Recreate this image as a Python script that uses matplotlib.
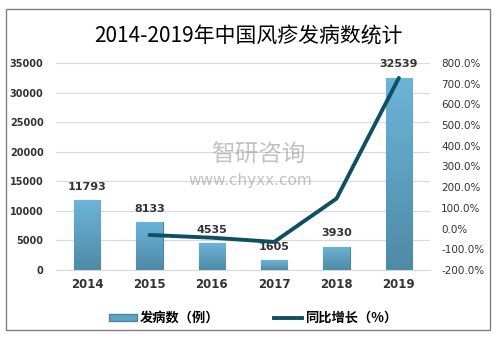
import matplotlib.pyplot as plt
import numpy as np
from matplotlib.patches import Rectangle
from matplotlib.lines import Line2D
from matplotlib.colors import LinearSegmentedColormap

plt.rcParams['font.family'] = ['Noto Sans CJK SC', 'DejaVu Sans']

years = ['2014', '2015', '2016', '2017', '2018', '2019']
cases = [11793, 8133, 4535, 1605, 3930, 32539]
growth_years = ['2015', '2016', '2017', '2018', '2019']
growth = [-31.0, -44.2, -64.6, 144.9, 728.0]

fig = plt.figure(figsize=(4.96, 3.37), dpi=100)
ax = fig.add_axes([0.113, 0.199, 0.754, 0.614])

x = np.arange(len(years))
bars = ax.bar(x, cases, width=0.42, color='#5fa3c4', edgecolor='#4a86a3', linewidth=0.8, zorder=3)

# vertical gradient inside bars: light at top, darker at bottom
cmap = LinearSegmentedColormap.from_list('bar', ['#6cb4d8', '#4f8aa6'])
grad = np.linspace(0, 1, 100).reshape(-1, 1)
for b in bars:
    bx, by = b.get_x(), b.get_y()
    im = ax.imshow(grad, cmap=cmap, aspect='auto', zorder=3, origin='upper',
                   extent=[bx, bx + b.get_width(), by, by + b.get_height()])
    im.set_clip_path(b)

ax.set_xlim(-0.5, 5.5)
ax.set_ylim(0, 35000)
ax.set_yticks(range(0, 35001, 5000))
ax.set_xticks(x)
ax.set_xticklabels(years, fontsize=8.5, fontweight='bold', color='#333333', family='DejaVu Sans')
ax.tick_params(axis='y', length=0, pad=9, labelsize=7, labelcolor='#333333')
ax.tick_params(axis='x', length=0, pad=6)
for lab in ax.get_yticklabels():
    lab.set_fontweight('bold')
    lab.set_family('DejaVu Sans')
ax.grid(axis='y', color='#d9d9d9', linewidth=0.8, zorder=0)
for s in ['top', 'right', 'left']:
    ax.spines[s].set_visible(False)
ax.spines['bottom'].set_color('#d9d9d9')

for xi, v in zip(x, cases):
    ax.annotate(str(v), (xi, v), xytext=(0, 6), textcoords='offset points',
                ha='center', va='bottom', fontsize=8, fontweight='bold',
                color='#333333', family='DejaVu Sans')

ax2 = ax.twinx()
ax2.set_ylim(-200, 800)
ax2.set_yticks(range(-200, 801, 100))
ax2.set_yticklabels([f'{v:.1f}%' for v in range(-200, 801, 100)],
                    fontsize=7.5, color='#333333', family='DejaVu Sans')
ax2.tick_params(axis='y', length=0, pad=8)
for s in ['top', 'right', 'left', 'bottom']:
    ax2.spines[s].set_visible(False)
gx = [years.index(y) for y in growth_years]
ax2.plot(gx, growth, color='#0e4f63', linewidth=2.8, zorder=5, solid_capstyle='round')

# watermark
fig.text(0.52, 0.54, '智研咨询', fontsize=17, color='#9a9a9a', alpha=0.6,
         ha='center', va='center')
fig.text(0.505, 0.465, 'www.chyxx.com', fontsize=11, color='#9a9a9a', alpha=0.6,
         ha='center', va='center', family='DejaVu Sans')

fig.text(0.5, 0.895, '2014-2019年中国风疹发病数统计', fontsize=15,
         ha='center', va='center', color='#000000')

# legend
handles = [Rectangle((0, 0), 1, 1, facecolor='#5fa3c4', edgecolor='#4a86a3'),
           Line2D([0], [0], color='#0e4f63', linewidth=2.8)]
fig.legend(handles, ['发病数（例）', '同比增长（%）'], loc='center',
           bbox_to_anchor=(0.51, 0.057), ncol=2, frameon=False, columnspacing=4.2,
           handlelength=2.1, handleheight=0.45, handletextpad=0.2,
           prop={'family': 'Noto Sans CJK SC', 'size': 9.5, 'weight': 'bold'})

# outer frame
fig.add_artist(Rectangle((0.012, 0.02), 0.976, 0.952, transform=fig.transFigure,
                         fill=False, edgecolor='#808080', linewidth=1))

fig.savefig('out.png', dpi=100)
